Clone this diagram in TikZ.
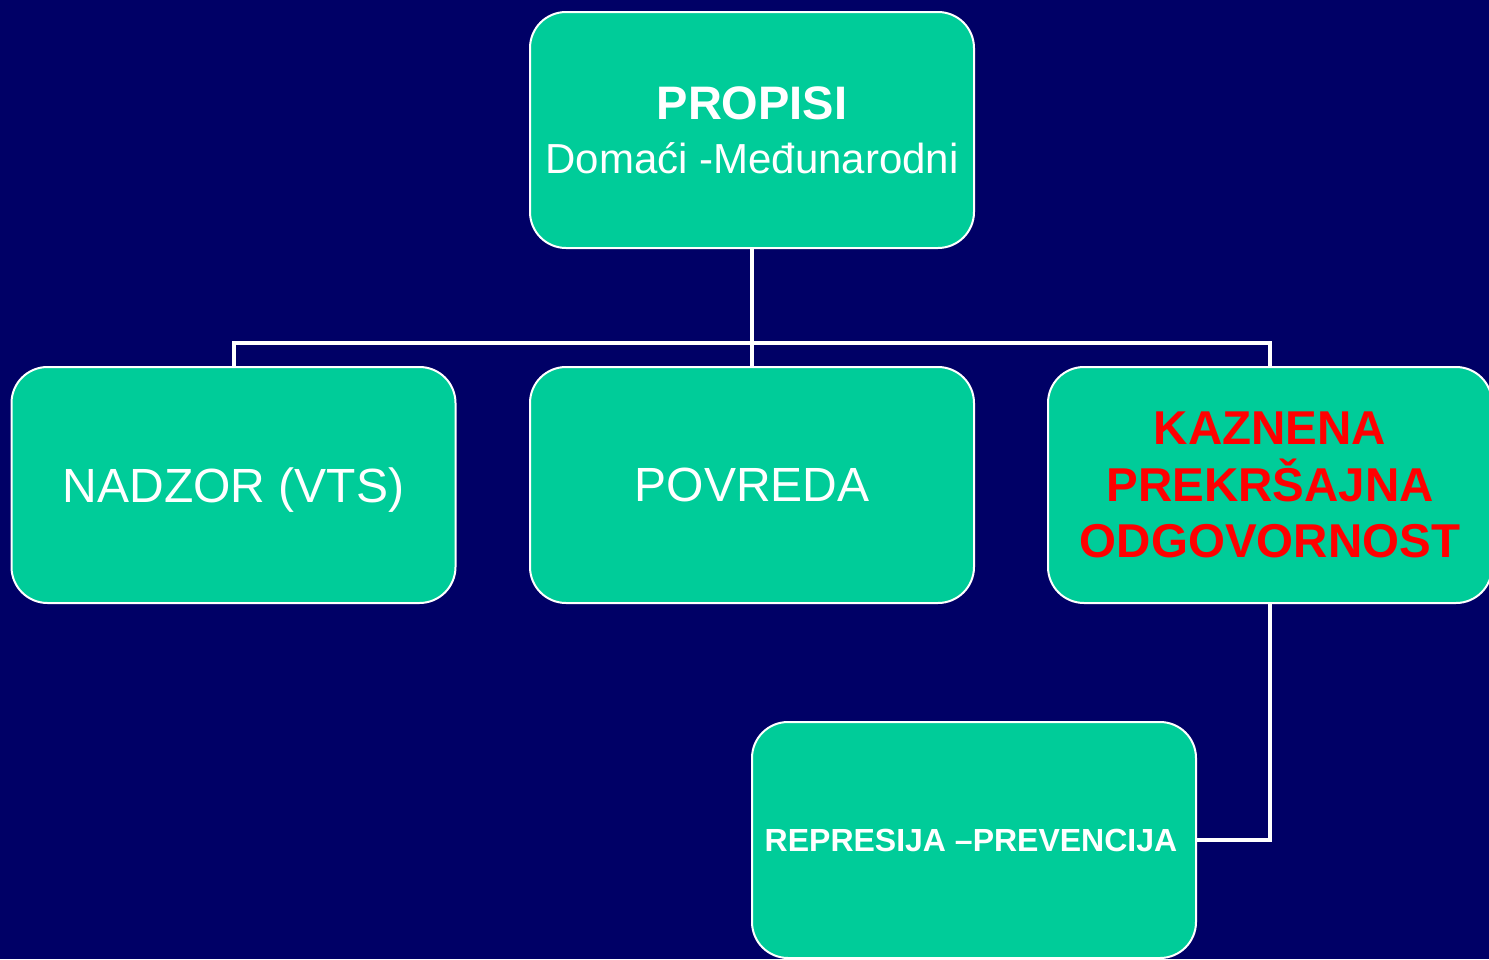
\documentclass[tikz,border=0pt]{standalone}
\usepackage{fontspec}
\setmainfont{Liberation Sans}
\definecolor{bg}{HTML}{000066}
\definecolor{boxfill}{HTML}{00CC99}
\definecolor{redtext}{HTML}{FF0000}
\tikzset{
  orgbox/.style={draw=white, line width=2pt, fill=boxfill, rounded corners=36pt,
    minimum width=444pt, minimum height=236pt, inner sep=0pt, text=white, align=center},
  conn/.style={draw=white, line width=4pt},
}
\begin{document}
\begin{tikzpicture}[x=1pt,y=-1pt]
\useasboundingbox (0,0) rectangle (1489,959);
\fill[bg] (0,0) rectangle (1489,959);
\clip (0,0) rectangle (1489,959);
\coordinate (bar) at (752,343);
\coordinate (kbar) at (1270,343);
\coordinate (nbar) at (233.5,343);
\node[orgbox, font=\fontsize{42}{54}\selectfont] (propisi) at (752,130) {{\fontsize{47}{54}\selectfont\bfseries PROPISI}\\Domaći -Međunarodni};
\node[orgbox, font=\fontsize{48}{56}\selectfont, text depth=0pt] (nadzor) at (233.5,485) {NADZOR (VTS)};
\node[orgbox, font=\fontsize{48}{56}\selectfont] (povreda) at (752,485) {POVREDA};
\node[orgbox, text=redtext, font=\fontsize{47.5}{56.5}\selectfont\bfseries] (kaznena) at (1270,485) {KAZNENA\\PREKRŠAJNA\\ODGOVORNOST};
\node[orgbox, font=\fontsize{32}{38}\selectfont\bfseries] (represija) at (974,840) {\raisebox{-2pt}{REPRESIJA –PREVENCIJA}\hspace*{6pt}};
\draw[conn] (propisi.south) -- (bar);
\draw[conn] (nadzor.north) |- (nbar) -- (kbar) -- (kaznena.north);
\draw[conn] (povreda.north) -- (bar);
\draw[conn] (kaznena.south) |- (represija.east);
\end{tikzpicture}
\end{document}
